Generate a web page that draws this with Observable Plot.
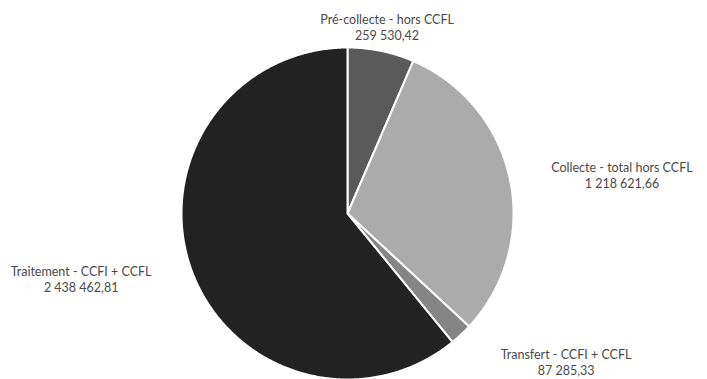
<!DOCTYPE html>
<html>
<head>
<meta charset="utf-8">
<script src="https://cdn.jsdelivr.net/npm/d3@7"></script>
<script src="https://cdn.jsdelivr.net/npm/@observablehq/plot@0.6"></script>
<style>
  html, body { margin: 0; padding: 0; background: #fff; }
  #chart { width: 707px; height: 379px; overflow: hidden; }
</style>
</head>
<body>
<div id="chart"></div>
<script>
// --- data ---
const categories = [
  "Pré-collecte - hors CCFL",
  "Collecte - total hors CCFL",
  "Transfert - CCFI + CCFL",
  "Traitement - CCFI + CCFL"
];
const values = [259530.42, 1218621.66, 87285.33, 2438462.81];
const colors = ["#5a5a5a", "#ababab", "#858585", "#222222"];

// --- layout (pixels) ---
const W = 707, H = 379;
const CX = 347, CY = 213, R = 166;
// label offsets from the slice's mid-arc point, in pixels
const labelDx = [6, 112, 105, -110];
const labelDy = [-24, -4, 27, 10];

const fr = d3.formatLocale({decimal: ",", thousands: " ", grouping: [3], currency: ["", ""]});
const fmt = fr.format(",.2f");

const table = categories.map((c, i) => ({name: c, value: values[i]}));
const arcs = d3.pie().sort(null).value(d => d.value).startAngle(0).endAngle(2 * Math.PI)(table);

// polygon points for each slice (unit-radius coordinates, y up)
const poly = [];
arcs.forEach(a => {
  const name = a.data.name;
  poly.push({name, x: 0, y: 0});
  const n = Math.max(2, Math.ceil((a.endAngle - a.startAngle) / (Math.PI / 360)));
  for (let k = 0; k <= n; k++) {
    const t = a.startAngle + (a.endAngle - a.startAngle) * k / n;
    poly.push({name, x: Math.sin(t), y: Math.cos(t)});
  }
  poly.push({name, x: 0, y: 0});
});

const labels = arcs.map((a, i) => {
  const m = (a.startAngle + a.endAngle) / 2;
  return {
    x: Math.sin(m) + labelDx[i] / R,
    y: Math.cos(m) - labelDy[i] / R,
    text: a.data.name + "\n" + fmt(a.data.value)
  };
});

const chart = Plot.plot({
  width: W,
  height: H,
  margin: 0,
  x: {domain: [-CX / R, (W - CX) / R], axis: null},
  y: {domain: [-(H - CY) / R, CY / R], axis: null},
  color: {domain: categories, range: colors},
  style: {background: "#fff", fontFamily: "Lato, 'Open Sans', sans-serif"},
  marks: [
    Plot.line(poly, {
      x: "x", y: "y", z: "name", fill: "name",
      stroke: "#ffffff", strokeWidth: 2, strokeLinejoin: "round", curve: "linear"
    }),
    Plot.text(labels, {
      x: "x", y: "y", text: "text",
      fontSize: 12.5, lineHeight: 1.28, fill: "#4a4a4a", textAnchor: "middle", lineAnchor: "middle"
    })
  ]
});
document.getElementById("chart").append(chart);
</script>
</body>
</html>
